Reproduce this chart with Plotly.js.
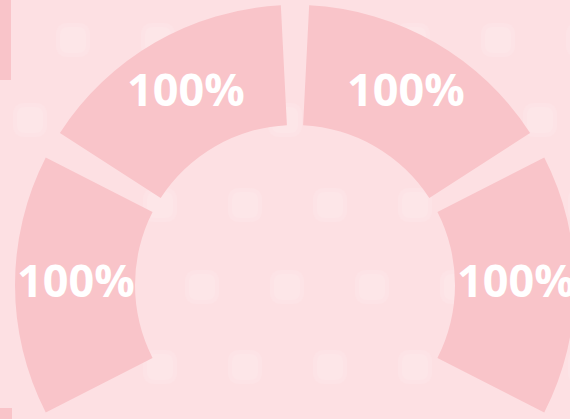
<!DOCTYPE html>
<html>
<head>
<meta charset="utf-8">
<script src="https://cdn.plot.ly/plotly-3.0.1.min.js"></script>
<style>
  html, body { margin: 0; padding: 0; width: 570px; height: 419px; overflow: hidden; background: #fde0e3; }
  #chart { position: absolute; left: 0; top: 0; width: 600px; height: 600px; }
</style>
</head>
<body>
<div id="chart"></div>
<script>
// ---- data ----
const categories = ['A', 'B', 'C', 'D'];
const percents = [100, 100, 100, 100];
const labelsText = ['100%', '100%', '100%', '100%'];

// ---- style ----
const BG = '#fde0e3';
const SEG = '#f9c4c9';
const GAP_DEG = 5.8;        // angular gap between segments
const STEP_DEG = 60;        // each segment occupies 60 degrees incl. gap
const SEG_DEG = STEP_DEG - GAP_DEG;
const SPAN = STEP_DEG * categories.length;   // 240 degrees arc
const ROT = -SPAN / 2 + GAP_DEG / 2;

// build slices: segment, gap, segment, gap ..., then transparent filler for the open bottom
const values = [], colors = [], hover = [], segMid = [];
let acc = ROT;
categories.forEach((c, i) => {
  const v = SEG_DEG * percents[i] / 100;
  values.push(v); colors.push(SEG); hover.push(c);
  segMid.push(acc + v / 2); acc += v;
  if (i < categories.length - 1) {
    values.push(GAP_DEG); colors.push('rgba(0,0,0,0)'); hover.push('');
    acc += GAP_DEG;
  }
});
values.push(360 - SPAN + GAP_DEG); colors.push('rgba(0,0,0,0)'); hover.push('');

const W = 600, H = 600;
const cx = 295, cy = 285, R = 280, HOLE = 160 / 280;
const rLabel = R * (1 + HOLE) / 2;

// labels at the middle of each segment ring
const annotations = categories.map((c, i) => {
  const a = segMid[i] * Math.PI / 180;
  return {
    xref: 'paper', yref: 'paper', showarrow: false,
    x: (cx + 1 + rLabel * Math.sin(a)) / W, y: 1 - (cy - rLabel * Math.cos(a) - 6) / H,
    xanchor: 'center', yanchor: 'middle',
    text: labelsText[i],
    font: {family: 'Open Sans', size: 45, color: '#ffffff', weight: 'bold'}
  };
});

// decorative faint background blobs (pattern)
const blobRows = [
  {y: 40,  x0: 73},
  {y: 120, x0: 30},
  {y: 205, x0: 75},
  {y: 287, x0: 32},
  {y: 367, x0: 75}
];
function roundRect(xc, yc, s, rr) {
  const px = v => (v / W).toFixed(5), py = v => (1 - v / H).toFixed(5);
  const x0 = xc - s / 2, x1 = xc + s / 2, y0 = yc - s / 2, y1 = yc + s / 2;
  return 'M' + px(x0 + rr) + ',' + py(y0) + ' L' + px(x1 - rr) + ',' + py(y0) +
    ' Q' + px(x1) + ',' + py(y0) + ' ' + px(x1) + ',' + py(y0 + rr) +
    ' L' + px(x1) + ',' + py(y1 - rr) + ' Q' + px(x1) + ',' + py(y1) + ' ' + px(x1 - rr) + ',' + py(y1) +
    ' L' + px(x0 + rr) + ',' + py(y1) + ' Q' + px(x0) + ',' + py(y1) + ' ' + px(x0) + ',' + py(y1 - rr) +
    ' L' + px(x0) + ',' + py(y0 + rr) + ' Q' + px(x0) + ',' + py(y0) + ' ' + px(x0 + rr) + ',' + py(y0) + ' Z';
}
const shapes = [];
blobRows.forEach(r => {
  for (let x = r.x0; x < 600; x += 85) {
    shapes.push({type: 'path', xref: 'paper', yref: 'paper', layer: 'below',
      path: roundRect(x, r.y, 34, 12), fillcolor: '#fde3e6', line: {width: 0}});
    shapes.push({type: 'path', xref: 'paper', yref: 'paper', layer: 'below',
      path: roundRect(x, r.y, 26, 8), fillcolor: '#fde6e8', line: {width: 0}});
  }
});
// small side bars
shapes.push({type: 'rect', xref: 'paper', yref: 'paper', layer: 'above',
  x0: 0, x1: 11 / W, y0: 1 - 80 / H, y1: 1, fillcolor: SEG, line: {width: 0}});
shapes.push({type: 'rect', xref: 'paper', yref: 'paper', layer: 'above',
  x0: 0, x1: 12 / W, y0: 1 - 430 / H, y1: 1 - 408 / H, fillcolor: SEG, line: {width: 0}});

const trace = {
  type: 'pie',
  values: values,
  hovertext: hover,
  textinfo: 'none',
  marker: {colors: colors, line: {width: 0}},
  sort: false,
  direction: 'clockwise',
  rotation: ROT,
  hole: HOLE,
  showlegend: false,
  domain: {x: [(cx - R) / W, (cx + R) / W], y: [1 - (cy + R) / H, 1 - (cy - R) / H]}
};

Plotly.newPlot('chart', [trace], {
  width: W, height: H,
  margin: {l: 0, r: 0, t: 0, b: 0},
  paper_bgcolor: BG, plot_bgcolor: BG,
  shapes: shapes,
  annotations: annotations,
  showlegend: false
}, {displayModeBar: false, staticPlot: true});
</script>
</body>
</html>
